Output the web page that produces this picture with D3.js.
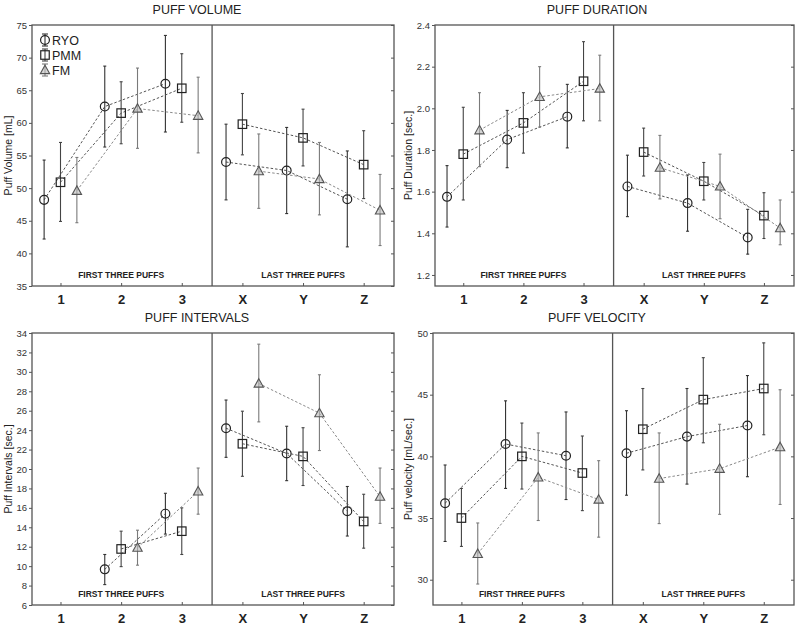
<!DOCTYPE html>
<html><head><meta charset="utf-8">
<script src="https://cdn.jsdelivr.net/npm/d3@7"></script>
<style>body{margin:0;background:#fff}svg{display:block;font-family:"Liberation Sans",Arial,sans-serif}</style>
</head><body><svg id="c" width="800" height="627"></svg>
<script>
const categories = ["1","2","3","X","Y","Z"];
const seriesNames = ["RYO","PMM","FM"];

// Puff Volume [mL]: mean, low, high per category
const volRYO  = [[48.2,42.2,54.3],[62.5,56.3,68.7],[66.0,58.6,73.4],[54.0,48.2,59.8],[52.7,46.1,59.3],[48.3,41.0,55.7]];
const volPMM  = [[50.9,44.9,57.0],[61.5,56.8,66.3],[65.3,60.1,70.6],[59.8,55.1,64.5],[57.7,53.4,62.1],[53.6,48.4,58.8]];
const volFM   = [[49.6,44.7,54.7],[62.2,56.1,68.4],[61.1,55.4,67.0],[52.6,46.9,58.3],[51.4,45.9,57.0],[46.6,41.2,52.1]];

// Puff Duration [sec.]
const durRYO  = [[1.575,1.43,1.725],[1.85,1.715,1.99],[1.96,1.81,2.115],[1.625,1.48,1.775],[1.545,1.41,1.68],[1.38,1.30,1.515]];
const durPMM  = [[1.78,1.56,2.005],[1.93,1.785,2.075],[2.13,1.94,2.32],[1.79,1.675,1.905],[1.65,1.56,1.74],[1.485,1.375,1.595]];
const durFM   = [[1.895,1.72,2.075],[2.055,1.91,2.2],[2.095,1.94,2.255],[1.715,1.565,1.87],[1.625,1.47,1.78],[1.425,1.345,1.56]];

// Puff Intervals [sec.] (no value at puff 1)
const intRYO  = [null,[9.67,8.1,11.2],[15.4,13.3,17.5],[24.2,21.2,27.1],[21.6,18.8,24.4],[15.65,13.1,18.2]];
const intPMM  = [null,[11.77,9.95,13.6],[13.6,11.2,16.0],[22.6,19.25,25.95],[21.3,18.3,24.25],[14.6,11.85,17.4]];
const intFM   = [null,[11.9,10.1,13.7],[17.7,15.35,20.1],[28.8,24.85,32.85],[25.75,21.9,29.7],[17.15,14.4,20.1]];

// Puff velocity [mL/sec.]
const velRYO  = [[36.2,33.1,39.3],[41.0,37.4,44.5],[40.05,36.5,43.6],[40.25,36.85,43.7],[41.6,37.75,45.5],[42.5,38.35,46.55]];
const velPMM  = [[35.0,32.7,37.4],[40.0,37.35,42.7],[38.65,35.6,41.65],[42.2,38.9,45.5],[44.6,41.1,48.0],[45.5,41.75,49.2]];
const velFM   = [[32.1,29.65,34.6],[38.3,34.8,41.9],[36.5,33.45,39.65],[38.2,34.55,41.9],[39.0,35.3,42.6],[40.75,36.1,45.4]];

const volTicks = [35,40,45,50,55,60,65,70,75];
const durTicks = [1.2,1.4,1.6,1.8,2.0,2.2,2.4];
const intTicks = [6,8,10,12,14,16,18,20,22,24,26,28,30,32,34];
const velTicks = [30,35,40,45,50];

const titles = ["PUFF VOLUME","PUFF DURATION","PUFF INTERVALS","PUFF VELOCITY"];
const yLabels = ["Puff Volume [mL]","Puff Duration [sec.]","Puff Intervals [sec.]","Puff velocity [mL/sec.]"];
const sectionLabels = ["FIRST THREE PUFFS","LAST THREE PUFFS"];

const panels = [
  {title:titles[0], ylab:yLabels[0], data:[volRYO,volPMM,volFM], ticks:volTicks, dom:[35,75], fmt:d3.format("d"), box:{x0:0,l:32,r:394,t:25,b:286}, legend:true},
  {title:titles[1], ylab:yLabels[1], data:[durRYO,durPMM,durFM], ticks:durTicks, dom:[1.147,2.4], fmt:d3.format(".1f"), box:{x0:400,l:435,r:794,t:25,b:286}},
  {title:titles[2], ylab:yLabels[2], data:[intRYO,intPMM,intFM], ticks:intTicks, dom:[6,34], fmt:d3.format("d"), box:{x0:0,l:32,r:394,t:333,b:605}},
  {title:titles[3], ylab:yLabels[3], data:[velRYO,velPMM,velFM], ticks:velTicks, dom:[27.95,50], fmt:d3.format("d"), box:{x0:400,l:433,r:794,t:333,b:605}}
];

const offsets = [-0.27, 0, 0.27];
const barColor = ["#333","#444","#7a7a7a"];
const lineColor = ["#555","#555","#8a8a8a"];
const frameColor = "#555";
const mSize = 8.5;

const svg = d3.select("#c");

function marker(g, k, x, y, s) {
  if (k === 0) {
    g.append("circle").attr("cx",x).attr("cy",y).attr("r",s*0.52)
      .attr("fill","none").attr("stroke","#222").attr("stroke-width",1.2);
  } else if (k === 1) {
    g.append("rect").attr("x",x-s/2).attr("y",y-s/2).attr("width",s).attr("height",s)
      .attr("fill","none").attr("stroke","#222").attr("stroke-width",1.2);
  } else {
    const h = s*0.95;
    g.append("path").attr("d",`M${x},${y-h*0.6}L${x+s*0.55},${y+h*0.45}L${x-s*0.55},${y+h*0.45}Z`)
      .attr("fill","#bdbdbd").attr("fill-opacity",0.6).attr("stroke","#555").attr("stroke-width",1.1);
  }
}

panels.forEach(p => {
  const B = p.box;
  const g = svg.append("g");
  const x = d3.scaleLinear().domain([-0.47, 5.5]).range([B.l, B.r]);
  const y = d3.scaleLinear().domain(p.dom).range([B.b, B.t]);

  g.append("text").attr("x", B.x0 + (B.r - B.x0)/2).attr("y", B.t - 11)
    .attr("text-anchor","middle").attr("font-size",12.5).attr("fill","#222").text(p.title);

  g.append("text").attr("transform",`translate(${B.x0+12},${(B.t+B.b)/2}) rotate(-90)`)
    .attr("text-anchor","middle").attr("font-size",10.5).attr("fill","#222").text(p.ylab);

  const ax = d3.axisLeft(y).tickValues(p.ticks).tickFormat(p.fmt).tickSize(3).tickPadding(2);
  const ag = g.append("g").attr("transform",`translate(${B.l},0)`).call(ax);
  ag.select(".domain").remove();
  ag.selectAll("line").attr("stroke",frameColor);
  ag.selectAll("text").attr("font-size",9.5).attr("fill","#333").attr("font-family","Liberation Sans, Arial, sans-serif");

  const rg = g.append("g").attr("transform",`translate(${B.r},0)`).call(d3.axisLeft(y).tickValues(p.ticks).tickSize(3).tickFormat(""));
  rg.select(".domain").remove();
  rg.selectAll("line").attr("stroke",frameColor);

  const bx = d3.axisBottom(x).tickValues(d3.range(categories.length)).tickFormat(i => categories[i]).tickSize(-3).tickPadding(9);
  const bg = g.append("g").attr("transform",`translate(0,${B.b})`).call(bx);
  bg.select(".domain").remove();
  bg.selectAll("line").attr("stroke",frameColor);
  bg.selectAll("text").attr("font-size",13).attr("font-weight","bold").attr("fill","#222").attr("font-family","Liberation Sans, Arial, sans-serif");

  g.append("rect").attr("x",B.l).attr("y",B.t).attr("width",B.r-B.l).attr("height",B.b-B.t)
    .attr("fill","none").attr("stroke",frameColor).attr("stroke-width",1.3);
  const xd = x(2.5);
  g.append("line").attr("x1",xd).attr("x2",xd).attr("y1",B.t).attr("y2",B.b)
    .attr("stroke",frameColor).attr("stroke-width",1.3);

  [1,4].forEach((c,i) => {
    g.append("text").attr("x",x(c)).attr("y",B.b-8).attr("text-anchor","middle")
      .attr("font-size",8.5).attr("font-weight","bold").attr("fill","#222").text(sectionLabels[i]);
  });

  p.data.forEach((ser, k) => {
    const pts = ser.map((d,i) => d ? {i, xv:i+offsets[k], m:d[0], lo:d[1], hi:d[2]} : null);
    const line = d3.line().defined(d => d).x(d => x(d.xv)).y(d => y(d.m));
    [pts.slice(0,3), pts.slice(3,6)].forEach(seg => {
      g.append("path").attr("d", line(seg)).attr("fill","none")
        .attr("stroke",lineColor[k]).attr("stroke-width",1).attr("stroke-dasharray","2.5,2");
    });
    pts.filter(d => d).forEach(d => {
      const cx = x(d.xv);
      g.append("line").attr("x1",cx).attr("x2",cx).attr("y1",y(d.lo)).attr("y2",y(d.hi))
        .attr("stroke",barColor[k]).attr("stroke-width",1.1);
      [d.lo,d.hi].forEach(v => g.append("line").attr("x1",cx-1.5).attr("x2",cx+1.5)
        .attr("y1",y(v)).attr("y2",y(v)).attr("stroke",barColor[k]).attr("stroke-width",1.1));
    });
    pts.filter(d => d).forEach(d => marker(g, k, x(d.xv), y(d.m), mSize));
  });

  if (p.legend) {
    seriesNames.forEach((n,k) => {
      const ly = 40 + k*15, lx = 45;
      g.append("line").attr("x1",lx).attr("x2",lx).attr("y1",ly-6).attr("y2",ly+6).attr("stroke",barColor[k]).attr("stroke-width",1.1);
      [ly-6,ly+6].forEach(v => g.append("line").attr("x1",lx-3).attr("x2",lx+3).attr("y1",v).attr("y2",v).attr("stroke",barColor[k]).attr("stroke-width",1.1));
      marker(g, k, lx, ly, mSize);
      g.append("text").attr("x",lx+7).attr("y",ly+4.5).attr("font-size",12.5).attr("fill","#222").text(n);
    });
  }
});
</script></body></html>
